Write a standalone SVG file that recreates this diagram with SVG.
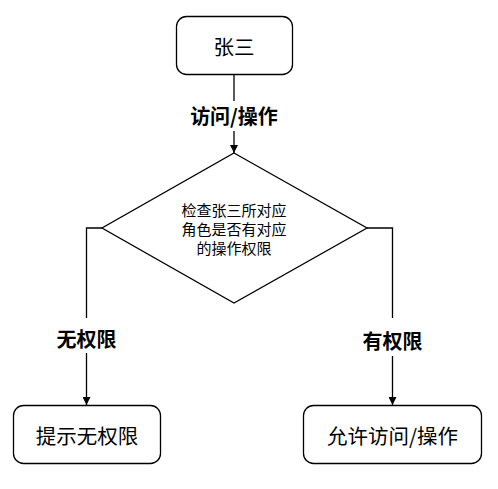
<svg xmlns="http://www.w3.org/2000/svg" width="498" height="489" viewBox="0 0 498 489">
<style>
.box{fill:#fff;stroke:#000;stroke-width:1.3}
.edge{fill:none;stroke:#000;stroke-width:1.3}
.t{font-family:"Noto Sans CJK SC","Liberation Sans",sans-serif;text-anchor:middle;dominant-baseline:central;fill:#000}
.n{font-size:20.5px}
.lbl{font-size:20px;font-weight:bold}
.d{font-size:15px}
</style>
<defs>
<marker id="arr" viewBox="0 0 8 8" refX="8" refY="4" markerWidth="8" markerHeight="8" markerUnits="userSpaceOnUse" orient="auto">
<path d="M0,0 L8,4 L0,8 Z" fill="#000"/>
</marker>
</defs>
<rect width="498" height="489" fill="#fff"/>
<g id="connectors">
<path class="edge" d="M234,74 V153" marker-end="url(#arr)"/>
<path class="edge" d="M102,228 H86.5 V405" marker-end="url(#arr)"/>
<path class="edge" d="M367,228 H392.5 V405" marker-end="url(#arr)"/>
<rect x="180" y="101" width="108" height="30" fill="#fff"/>
<text class="t lbl" x="234" y="115">访问/操作</text>
<rect x="50" y="318" width="74" height="35" fill="#fff"/>
<text class="t lbl" x="86.5" y="338">无权限</text>
<rect x="356" y="318" width="74" height="38" fill="#fff"/>
<text class="t lbl" x="392.5" y="340">有权限</text>
</g>
<g id="node-zhangsan">
<rect class="box" x="176.5" y="16.5" width="116" height="58" rx="10"/>
<text class="t n" x="234" y="46">张三</text>
</g>
<g id="node-check">
<polygon class="box" points="234,153 367,228 234,303 102,228"/>
<text class="t d" x="234" y="209">检查张三所对应</text>
<text class="t d" x="234" y="228">角色是否有对应</text>
<text class="t d" x="234" y="247">的操作权限</text>
</g>
<g id="node-deny">
<rect class="box" x="13.5" y="405.5" width="147" height="58" rx="10"/>
<text class="t n" x="87" y="435">提示无权限</text>
</g>
<g id="node-allow">
<rect class="box" x="303.5" y="405.5" width="178" height="58" rx="10"/>
<text class="t n" x="392.5" y="435">允许访问/操作</text>
</g>
</svg>
